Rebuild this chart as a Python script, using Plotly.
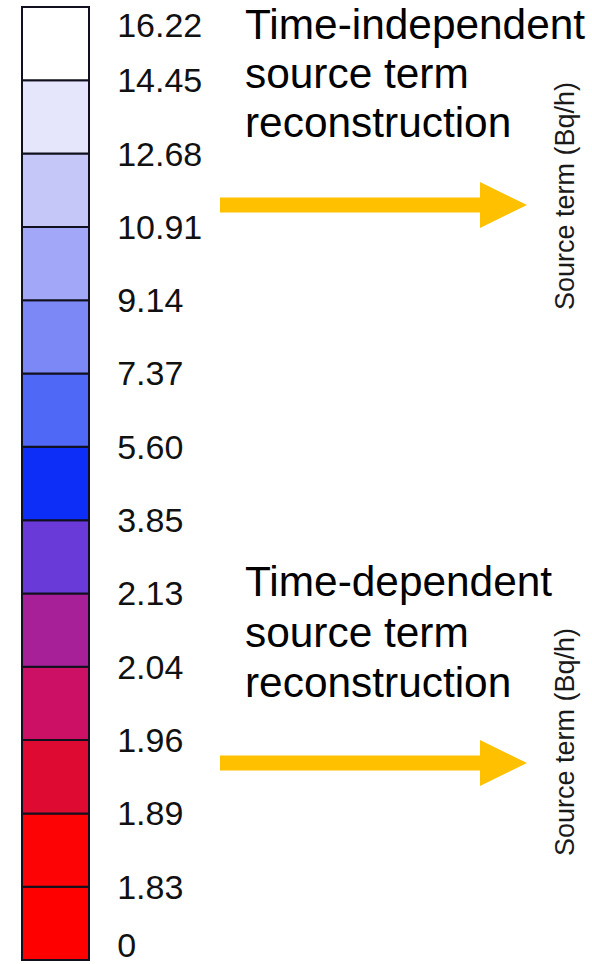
import plotly.graph_objects as go

# ---- data ----
boundary_labels = ["0", "1.83", "1.89", "1.96", "2.04", "2.13", "3.85",
                   "5.60", "7.37", "9.14", "10.91", "12.68", "14.45", "16.22"]
segment_colors = ["#ff0000", "#fd0306", "#de0a32", "#cc1066", "#a82098",
                  "#6a3ad8", "#0d2ef7", "#5068f6", "#7c88f6", "#a2a7f7",
                  "#c5c7f9", "#e5e5fb", "#ffffff"]
segment_height = [1] * len(segment_colors)
segment_base = list(range(len(segment_colors)))
block_texts = [
    ["Time-independent", "source term", "reconstruction"],
    ["Time-dependent", "source term", "reconstruction"],
]
side_label = "Source term (Bq/h)"

W, H = 592, 964


def px(x):
    return x / W


def py(y):
    return 1 - y / H


n = len(segment_colors)
top_px, bot_px = 7, 960
unit = (bot_px - top_px) / n
pad = 0.05
ylo, yhi = -pad, n + pad
plot_top = top_px - pad * unit
plot_bot = bot_px + pad * unit

bar_left, bar_right = 22, 89
xpad = 0.05
bw = bar_right - bar_left
plot_left = bar_left - xpad * bw
plot_right = bar_right + xpad * bw

fig = go.Figure()
fig.add_trace(go.Bar(
    x=[0] * n, y=segment_height, base=segment_base, width=1,
    marker=dict(color=segment_colors, line=dict(color="#10101e", width=2)),
    showlegend=False, hoverinfo="skip",
))

# tick positions at segment boundaries, end labels nudged inward
tickvals = []
for i in range(len(boundary_labels)):
    v = float(i)
    if i == 0:
        v = 0.2
    elif i == len(boundary_labels) - 1:
        v = n - 0.25
    tickvals.append(v)

fig.update_layout(
    width=W, height=H,
    margin=dict(l=0, r=0, t=0, b=0),
    paper_bgcolor="white", plot_bgcolor="white",
    barmode="overlay",
    xaxis=dict(domain=[px(plot_left), px(plot_right)], range=[-0.5 - xpad, 0.5 + xpad],
               visible=False, fixedrange=True),
    yaxis=dict(domain=[py(plot_bot), py(plot_top)], range=[ylo, yhi],
               side="right", showgrid=False, zeroline=False, showline=False,
               tickvals=tickvals, ticktext=boundary_labels,
               ticks="outside", ticklen=17, tickcolor="rgba(0,0,0,0)",
               ticklabeloverflow="allow",
               tickfont=dict(family="Liberation Sans, Arial, sans-serif", size=34, color="#111111")),
    font=dict(family="Liberation Sans, Arial, sans-serif"),
)

# text blocks
block_centers = [[24, 74, 123], [581, 632, 682]]
annotations = []
for lines, centers in zip(block_texts, block_centers):
    for t, cy in zip(lines, centers):
        annotations.append(dict(
            text=t, x=px(243), y=py(cy), xref="paper", yref="paper",
            xanchor="left", yanchor="middle", showarrow=False,
            font=dict(family="Liberation Sans, Arial, sans-serif", size=42.4, color="#000000"),
        ))
for cy in [196, 742]:
    annotations.append(dict(
        text=side_label, x=px(565), y=py(cy), xref="paper", yref="paper",
        xanchor="center", yanchor="middle", showarrow=False, textangle=-90,
        font=dict(family="Liberation Sans, Arial, sans-serif", size=27, color="#1a1a1a"),
    ))
fig.update_layout(annotations=annotations)

# arrows
shapes = []
for cy in [205, 763]:
    x0, xb, xt = 220, 480, 527
    sh = 7.5
    hh = 23
    pts = [(x0, cy - sh), (xb, cy - sh), (xb, cy - hh), (xt, cy), (xb, cy + hh),
           (xb, cy + sh), (x0, cy + sh)]
    path = "M " + " L ".join(f"{px(a):.5f},{py(b):.5f}" for a, b in pts) + " Z"
    shapes.append(dict(type="path", path=path, xref="paper", yref="paper",
                       fillcolor="#ffc000", line=dict(width=0)))
fig.update_layout(shapes=shapes)

fig.write_html("out.html", config={"displayModeBar": False},
               post_script="document.body.style.margin='0';document.body.style.overflow='hidden';")
